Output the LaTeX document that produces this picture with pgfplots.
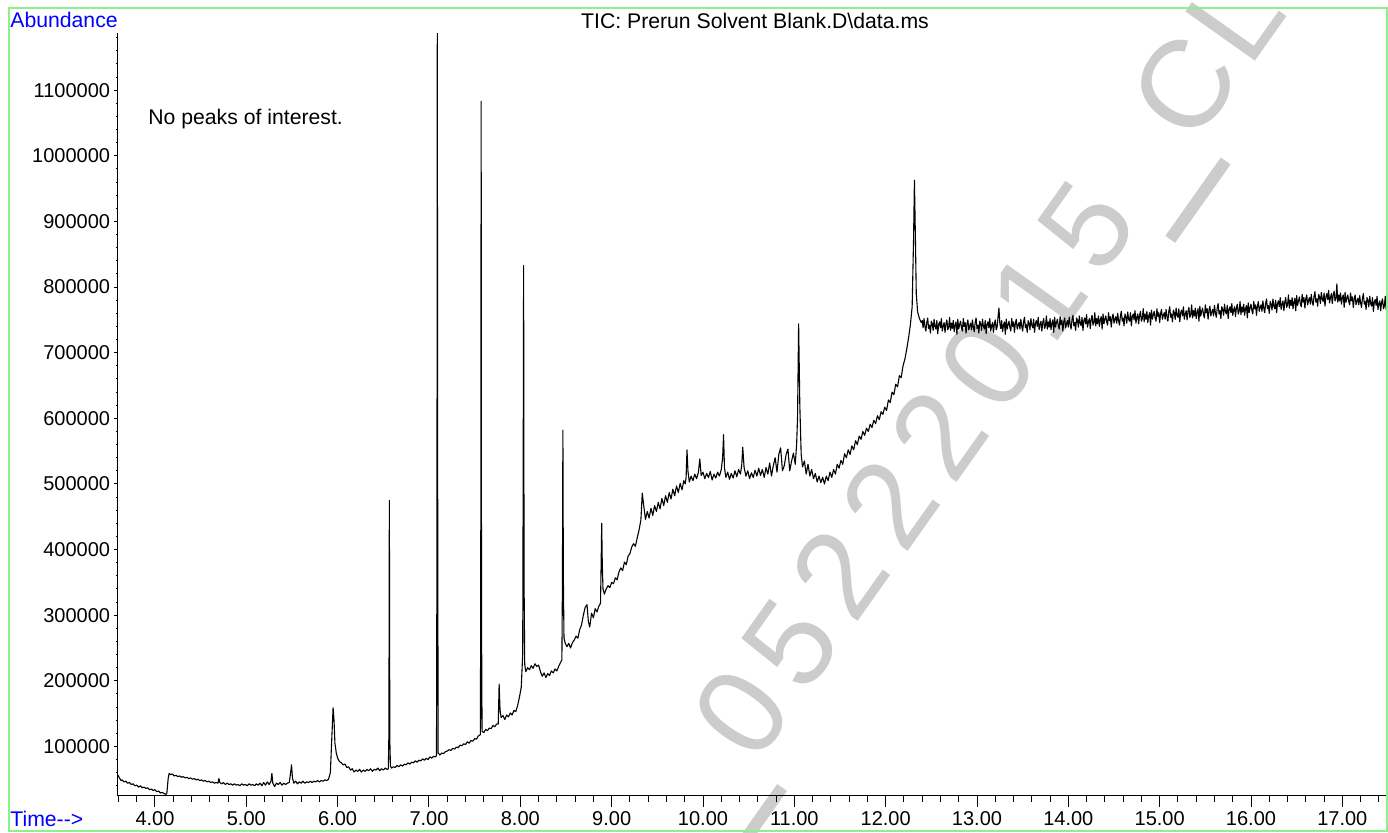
\documentclass[border=0pt]{standalone}
\usepackage{fontspec}
\setmainfont{Liberation Sans}
\usepackage{pgfplots}
\pgfplotsset{compat=1.18}
\definecolor{frame}{RGB}{140,240,140}
\definecolor{hpblue}{RGB}{0,0,255}
\definecolor{wmark}{RGB}{204,204,204}

\pgfplotsset{
  chrom/.style={
    at={(58.75pt,18.65pt)}, anchor=south west,
    scale only axis, width=635.25pt, height=381.2pt,
    xmin=3.5895, xmax=17.5,
    tick align=outside,
    every tick/.style={black, line width=0.5pt},
    axis line style={black, line width=0.6pt},
    tick label style={font=\fontsize{10}{12}\selectfont},
    scaled x ticks=false, scaled y ticks=false,
  }
}
\newcommand\wmchar[2]{\node[anchor=base, inner sep=0pt, text=wmark,
  font=\fontsize{62}{64}\selectfont] at (#1*42.65,-22.2) {#2};}
\newcommand\wmbar[1]{\fill[wmark] (#1*42.65-24,-42) rectangle (#1*42.65+24,-36);}

\begin{document}
\begin{tikzpicture}[x=1pt,y=1pt]
\useasboundingbox (0,0) rectangle (694,416.5);

% watermark "_05222015_CL", one glyph per slot
\begin{scope}[shift={(370,60.5)}, rotate=54.7, transform shape]
  \wmbar{-1}
  \wmchar{0}{0}\wmchar{1}{5}\wmchar{2}{2}\wmchar{3}{2}
  \wmchar{4}{2}\wmchar{5}{0}\wmchar{6}{1}\wmchar{7}{5}
  \wmbar{8}
  \wmchar{9}{C}\wmchar{10}{L}
\end{scope}

% y axis (small ticks)
\begin{axis}[chrom,
    ymin=24930, ymax=1186800,
    axis x line=none, axis y line*=left,
    major tick length=2pt, minor tick length=1pt,
    ytick={100000,200000,...,1100000},
    yticklabels={100000,200000,300000,400000,500000,600000,700000,800000,900000,1000000,1100000},
    minor ytick={20000,40000,...,1180000},
    yticklabel style={anchor=east, inner sep=0pt, xshift=-1.5pt},
  ]
  \addplot[draw=none] coordinates {(4,100000)};
\end{axis}

% x axis and chromatogram (abundance in thousands)
\begin{axis}[chrom,
    ymin=24.93, ymax=1186.8,
    axis y line=none, axis x line*=bottom,
    major tick length=5.5pt, minor tick length=3pt,
    xtick={4,5,...,17},
    xticklabels={4.00,5.00,6.00,7.00,8.00,9.00,10.00,11.00,12.00,13.00,14.00,15.00,16.00,17.00},
    minor xtick={3.6,3.8,...,17.4},
    xticklabel style={anchor=base, yshift=-9.5pt},
  ]
  \addplot[black, line width=0.55pt, line join=round] coordinates {
(3.59,57)(3.60,55)(3.61,52)(3.62,50)(3.63,48)(3.64,49)(3.66,46)(3.68,47)(3.70,44)(3.72,45)(3.74,42)(3.76,43)(3.78,40)(3.80,41)(3.82,38)(3.84,40)(3.86,37)(3.88,38)(3.90,36)(3.92,37)(3.94,34)(3.96,35)(3.98,33)(4.00,34)(4.02,31)(4.04,32)(4.06,29)(4.08,30)(4.10,28)(4.12,27)(4.13,29)
(4.145,52)(4.155,59)(4.17,57)(4.19,58)(4.21,55)(4.23,56)(4.25,54)(4.27,55)(4.29,53)(4.31,54)(4.33,52)(4.35,53)(4.37,51)(4.39,52)(4.41,50)(4.43,51)(4.45,49)(4.47,50)(4.49,48)(4.51,49)(4.53,47)(4.55,48)(4.57,46)(4.59,47)(4.61,45)(4.63,46)(4.65,44)(4.67,45)(4.69,44)(4.70,51)(4.71,45)(4.73,43)(4.75,45)(4.77,42)(4.79,44)(4.81,42)(4.83,43)(4.85,41)(4.87,43)(4.89,41)(4.91,42)(4.93,40)(4.95,43)(4.97,41)(4.99,42)
(5.01,40)(5.03,43)(5.05,41)(5.07,42)(5.09,40)(5.11,43)(5.13,41)(5.15,44)(5.17,40)(5.19,45)(5.21,41)(5.23,46)(5.25,42)(5.27,47)(5.28,59)(5.29,44)(5.31,39)(5.33,44)(5.35,42)(5.37,45)(5.39,41)(5.41,44)(5.43,42)(5.45,44)(5.47,45)(5.485,60)(5.495,72)(5.505,52)(5.52,44)(5.54,47)(5.56,43)(5.58,46)(5.60,44)(5.62,47)(5.64,44)(5.66,46)(5.68,45)(5.70,47)(5.72,45)(5.74,47)(5.76,46)(5.78,48)(5.80,46)(5.82,48)(5.84,47)(5.86,49)(5.88,48)(5.90,50)(5.92,60)(5.935,110)(5.95,159)(5.96,140)(5.97,105)(5.985,90)
(6.00,82)(6.02,77)(6.04,75)(6.06,72)(6.08,73)(6.10,68)(6.12,69)(6.14,64)(6.16,66)(6.18,61)(6.20,64)(6.22,62)(6.24,65)(6.26,61)(6.28,64)(6.30,62)(6.32,65)(6.34,63)(6.36,66)(6.38,62)(6.40,65)(6.42,64)(6.44,67)(6.46,63)(6.48,66)(6.50,64)(6.52,67)(6.54,65)(6.555,66)(6.561,120)(6.566,475)(6.571,110)(6.578,70)(6.59,67)(6.61,69)(6.63,68)(6.65,71)(6.67,69)(6.69,72)(6.71,70)(6.73,73)(6.75,72)(6.77,75)(6.79,73)(6.81,76)(6.83,75)(6.85,78)(6.87,76)(6.89,79)(6.91,78)(6.93,81)(6.95,79)(6.97,82)(6.99,80)
(7.01,84)(7.03,82)(7.05,85)(7.07,84)(7.082,86)(7.087,400)(7.091,1190)(7.095,500)(7.10,90)(7.12,87)(7.14,90)(7.16,89)(7.18,92)(7.20,93)(7.22,95)(7.24,94)(7.26,97)(7.28,96)(7.30,99)(7.32,98)(7.34,102)(7.36,101)(7.38,104)(7.40,103)(7.42,107)(7.44,105)(7.46,109)(7.48,108)(7.50,112)(7.52,111)(7.54,116)(7.563,118)(7.567,400)(7.571,1083)(7.575,300)(7.581,123)(7.60,121)(7.62,126)(7.64,124)(7.66,128)(7.68,127)(7.70,132)(7.72,130)(7.74,134)(7.758,134)(7.768,195)(7.778,155)(7.79,144)(7.81,147)(7.83,141)(7.85,148)(7.87,145)(7.89,151)(7.91,148)(7.93,155)(7.95,153)(7.97,162)(7.99,175)
(8.01,190)(8.026,240)(8.031,500)(8.036,833)(8.041,350)(8.048,225)(8.06,214)(8.08,220)(8.10,217)(8.12,223)(8.14,219)(8.16,226)(8.18,222)(8.20,224)(8.22,214)(8.24,207)(8.26,212)(8.28,205)(8.30,211)(8.32,208)(8.34,215)(8.36,212)(8.38,218)(8.40,215)(8.42,222)(8.44,228)(8.455,232)(8.461,350)(8.466,582)(8.471,360)(8.478,265)(8.49,258)(8.51,252)(8.53,257)(8.55,250)(8.57,258)(8.59,262)(8.61,268)(8.63,265)(8.65,278)(8.67,285)(8.69,300)(8.71,312)(8.73,316)(8.745,290)(8.76,282)(8.78,303)(8.80,296)(8.82,310)(8.84,305)(8.86,314)(8.878,318)(8.885,380)(8.891,440)(8.897,380)(8.905,340)(8.92,332)(8.94,340)(8.96,345)(8.98,342)
(9.00,350)(9.02,348)(9.04,357)(9.06,354)(9.08,366)(9.10,372)(9.12,368)(9.14,381)(9.16,377)(9.18,390)(9.20,394)(9.22,404)(9.24,409)(9.26,405)(9.28,418)(9.30,430)(9.32,445)(9.335,486)(9.35,468)(9.37,446)(9.39,458)(9.41,448)(9.43,463)(9.45,452)(9.47,467)(9.49,458)(9.51,472)(9.53,462)(9.55,478)(9.57,467)(9.59,482)(9.61,472)(9.63,487)(9.65,477)(9.67,492)(9.69,482)(9.71,497)(9.73,487)(9.75,501)(9.77,491)(9.79,505)(9.805,500)(9.815,510)(9.825,552)(9.835,520)(9.85,503)(9.87,512)(9.89,505)(9.91,515)(9.93,508)(9.95,518)(9.965,538)(9.98,513)
(10.00,518)(10.02,508)(10.04,516)(10.06,510)(10.08,519)(10.10,506)(10.12,515)(10.14,509)(10.16,518)(10.18,512)(10.20,522)(10.215,540)(10.225,575)(10.235,525)(10.25,510)(10.27,518)(10.29,507)(10.31,516)(10.33,509)(10.35,520)(10.37,511)(10.39,522)(10.41,515)(10.425,530)(10.435,556)(10.45,525)(10.47,512)(10.49,520)(10.51,508)(10.53,517)(10.55,510)(10.57,521)(10.59,512)(10.61,524)(10.63,513)(10.65,522)(10.67,510)(10.69,525)(10.71,515)(10.73,532)(10.75,512)(10.77,528)(10.79,540)(10.81,518)(10.83,545)(10.85,555)(10.87,520)(10.89,528)(10.91,545)(10.93,553)(10.95,520)(10.97,535)(10.99,547)
(11.01,530)(11.025,560)(11.035,600)(11.047,744)(11.06,620)(11.075,545)(11.09,526)(11.11,535)(11.13,515)(11.15,530)(11.17,512)(11.19,522)(11.21,508)(11.23,516)(11.25,503)(11.27,512)(11.29,502)(11.31,510)(11.33,500)(11.35,512)(11.37,505)(11.39,518)(11.41,510)(11.43,522)(11.45,515)(11.47,530)(11.49,524)(11.51,536)(11.53,530)(11.55,546)(11.57,540)(11.59,552)(11.61,545)(11.63,558)(11.65,552)(11.67,566)(11.69,560)(11.71,573)(11.73,568)(11.75,580)(11.77,574)(11.79,585)(11.81,580)(11.83,591)(11.85,586)(11.87,597)(11.89,592)(11.91,604)(11.93,598)(11.95,610)(11.97,606)(11.99,617)
(12.01,612)(12.03,628)(12.05,624)(12.07,640)(12.09,636)(12.11,652)(12.13,648)(12.15,665)(12.17,662)(12.19,680)(12.21,690)(12.23,705)(12.25,722)(12.27,742)(12.29,770)(12.305,870)(12.315,963)(12.325,880)(12.335,790)(12.35,762)(12.37,752)(12.39,746)
(12.40,749)(12.41,738)(12.42,752)(12.43,740)(12.44,733)(12.45,746)(12.46,753)(12.47,737)(12.48,742)(12.49,730)(12.50,748)(12.51,744)(12.52,734)(12.53,751)(12.54,740)(12.55,736)(12.56,749)(12.57,729)(12.58,743)(12.59,747)
(12.60,738)(12.61,752)(12.62,733)(12.63,741)(12.64,746)(12.65,731)(12.66,744)(12.67,750)(12.68,735)(12.69,739)(12.70,754)(12.71,734)(12.72,745)(12.73,737)(12.74,749)(12.75,732)(12.76,742)(12.77,747)(12.78,728)(12.79,751)
(12.80,736)(12.81,743)(12.82,748)(12.83,738)(12.84,733)(12.85,752)(12.86,740)(12.87,746)(12.88,730)(12.89,744)(12.90,750)(12.91,735)(12.92,741)(12.93,745)(12.94,735)(12.95,750)(12.96,739)(12.97,732)(12.98,746)(12.99,753)
(13.00,737)(13.01,742)(13.02,730)(13.03,748)(13.04,744)(13.05,734)(13.06,751)(13.07,740)(13.08,736)(13.09,749)(13.10,729)(13.11,743)(13.12,747)(13.13,738)(13.14,752)(13.15,733)(13.16,741)(13.17,746)(13.18,731)(13.19,744)
(13.20,750)(13.21,735)(13.22,739)(13.23,754)(13.24,768)(13.25,745)(13.26,737)(13.27,749)(13.28,732)(13.29,742)(13.30,747)(13.31,728)(13.32,751)(13.33,736)(13.34,743)(13.35,748)(13.36,738)(13.37,733)(13.38,752)(13.39,740)
(13.40,747)(13.41,731)(13.42,745)(13.43,751)(13.44,736)(13.45,742)(13.46,746)(13.47,736)(13.48,751)(13.49,740)(13.50,733)(13.51,747)(13.52,754)(13.53,738)(13.54,743)(13.55,731)(13.56,749)(13.57,745)(13.58,735)(13.59,752)
(13.60,742)(13.61,738)(13.62,751)(13.63,731)(13.64,745)(13.65,749)(13.66,740)(13.67,754)(13.68,735)(13.69,743)(13.70,748)(13.71,733)(13.72,746)(13.73,752)(13.74,737)(13.75,741)(13.76,756)(13.77,736)(13.78,747)(13.79,739)
(13.80,752)(13.81,735)(13.82,745)(13.83,750)(13.84,731)(13.85,754)(13.86,739)(13.87,746)(13.88,751)(13.89,741)(13.90,736)(13.91,755)(13.92,743)(13.93,749)(13.94,733)(13.95,747)(13.96,753)(13.97,738)(13.98,744)(13.99,749)
(14.00,739)(14.01,754)(14.02,743)(14.03,736)(14.04,750)(14.05,757)(14.06,741)(14.07,746)(14.08,734)(14.09,753)(14.10,749)(14.11,739)(14.12,756)(14.13,745)(14.14,741)(14.15,754)(14.16,734)(14.17,749)(14.18,753)(14.19,744)
(14.20,758)(14.21,739)(14.22,747)(14.23,752)(14.24,737)(14.25,751)(14.26,757)(14.27,742)(14.28,746)(14.29,761)(14.30,741)(14.31,752)(14.32,744)(14.33,756)(14.34,740)(14.35,750)(14.36,755)(14.37,736)(14.38,759)(14.39,744)
(14.40,751)(14.41,756)(14.42,747)(14.43,742)(14.44,761)(14.45,749)(14.46,755)(14.47,739)(14.48,753)(14.49,759)(14.50,745)(14.51,751)(14.52,755)(14.53,745)(14.54,760)(14.55,749)(14.56,742)(14.57,756)(14.58,763)(14.59,748)
(14.60,753)(14.61,741)(14.62,759)(14.63,755)(14.64,745)(14.65,762)(14.66,751)(14.67,748)(14.68,761)(14.69,741)(14.70,755)(14.71,759)(14.72,750)(14.73,764)(14.74,745)(14.75,754)(14.76,759)(14.77,744)(14.78,757)(14.79,763)
(14.80,748)(14.81,752)(14.82,767)(14.83,747)(14.84,759)(14.85,751)(14.86,763)(14.87,746)(14.88,756)(14.89,761)(14.90,742)(14.91,765)(14.92,751)(14.93,758)(14.94,763)(14.95,753)(14.96,748)(14.97,767)(14.98,755)(14.99,761)
(15.00,746)(15.01,760)(15.02,766)(15.03,751)(15.04,757)(15.05,761)(15.06,751)(15.07,766)(15.08,755)(15.09,748)(15.10,763)(15.11,770)(15.12,754)(15.13,759)(15.14,747)(15.15,765)(15.16,761)(15.17,751)(15.18,768)(15.19,757)
(15.20,754)(15.21,767)(15.22,747)(15.23,761)(15.24,765)(15.25,756)(15.26,770)(15.27,751)(15.28,759)(15.29,764)(15.30,750)(15.31,763)(15.32,769)(15.33,754)(15.34,758)(15.35,773)(15.36,753)(15.37,764)(15.38,756)(15.39,768)
(15.40,752)(15.41,762)(15.42,767)(15.43,748)(15.44,771)(15.45,756)(15.46,763)(15.47,768)(15.48,758)(15.49,753)(15.50,773)(15.51,761)(15.52,767)(15.53,751)(15.54,765)(15.55,771)(15.56,756)(15.57,762)(15.58,766)(15.59,756)
(15.60,772)(15.61,761)(15.62,754)(15.63,768)(15.64,775)(15.65,759)(15.66,764)(15.67,752)(15.68,770)(15.69,766)(15.70,757)(15.71,774)(15.72,763)(15.73,759)(15.74,772)(15.75,752)(15.76,766)(15.77,770)(15.78,761)(15.79,775)
(15.80,757)(15.81,765)(15.82,770)(15.83,755)(15.84,768)(15.85,774)(15.86,759)(15.87,763)(15.88,778)(15.89,758)(15.90,770)(15.91,762)(15.92,774)(15.93,757)(15.94,767)(15.95,772)(15.96,753)(15.97,776)(15.98,761)(15.99,768)
(16.00,774)(16.01,764)(16.02,759)(16.03,778)(16.04,767)(16.05,773)(16.06,757)(16.07,771)(16.08,778)(16.09,763)(16.10,769)(16.11,773)(16.12,763)(16.13,779)(16.14,768)(16.15,761)(16.16,775)(16.17,782)(16.18,767)(16.19,772)
(16.20,760)(16.21,778)(16.22,774)(16.23,765)(16.24,782)(16.25,771)(16.26,767)(16.27,780)(16.28,761)(16.29,775)(16.30,779)(16.31,770)(16.32,784)(16.33,766)(16.34,774)(16.35,779)(16.36,764)(16.37,777)(16.38,784)(16.39,769)
(16.40,773)(16.41,788)(16.42,768)(16.43,780)(16.44,772)(16.45,784)(16.46,767)(16.47,777)(16.48,783)(16.49,764)(16.50,787)(16.51,772)(16.52,779)(16.53,785)(16.54,775)(16.55,770)(16.56,789)(16.57,777)(16.58,784)(16.59,768)
(16.60,782)(16.61,788)(16.62,773)(16.63,780)(16.64,784)(16.65,774)(16.66,789)(16.67,778)(16.68,772)(16.69,786)(16.70,793)(16.71,777)(16.72,782)(16.73,771)(16.74,789)(16.75,785)(16.76,775)(16.77,792)(16.78,782)(16.79,778)
(16.80,791)(16.81,771)(16.82,785)(16.83,790)(16.84,781)(16.85,795)(16.86,776)(16.87,784)(16.88,790)(16.89,775)(16.90,788)(16.91,794)(16.92,779)(16.93,782)(16.94,805)(16.95,777)(16.96,788)(16.97,779)(16.98,791)(16.99,774)
(17.00,784)(17.01,788)(17.02,769)(17.03,792)(17.04,777)(17.05,783)(17.06,788)(17.07,778)(17.08,773)(17.09,791)(17.10,779)(17.11,785)(17.12,769)(17.13,782)(17.14,788)(17.15,773)(17.16,779)(17.17,783)(17.18,773)(17.19,787)
(17.20,776)(17.21,769)(17.22,783)(17.23,790)(17.24,774)(17.25,778)(17.26,766)(17.27,784)(17.28,780)(17.29,770)(17.30,786)(17.31,775)(17.32,771)(17.33,784)(17.34,763)(17.35,777)(17.36,781)(17.37,772)(17.38,786)(17.39,766)
(17.40,774)(17.41,779)(17.42,764)(17.43,777)(17.44,782)(17.45,767)(17.46,771)(17.47,786)(17.48,765)(17.49,776)(17.50,768)
  };
\end{axis}

% frame and texts
\draw[frame, line width=0.75pt] (4.5,1) rectangle (693.5,412.5);
\node[anchor=base west, inner sep=0pt, text=hpblue, font=\fontsize{10.6}{12}\selectfont] at (5,402.5) {Abundance};
\node[anchor=base, inner sep=0pt, font=\fontsize{10.6}{12}\selectfont] at (377.5,402) {TIC: Prerun Solvent Blank.D\textbackslash data.ms};
\node[anchor=base west, inner sep=0pt, font=\fontsize{10.6}{12}\selectfont] at (74,354) {No peaks of interest.};
\node[anchor=base west, inner sep=0pt, text=hpblue, font=\fontsize{10.6}{12}\selectfont] at (5,3) {Time-{}-{}>};
\end{tikzpicture}
\end{document}
